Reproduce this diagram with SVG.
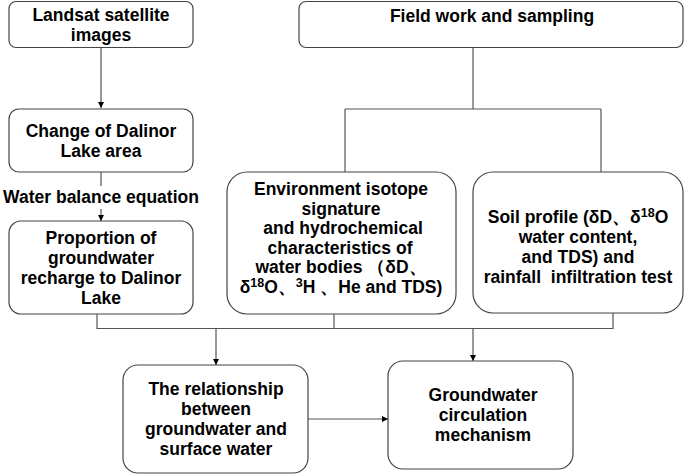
<svg xmlns="http://www.w3.org/2000/svg" width="685" height="475" viewBox="0 0 685 475">
<defs>
<style>
.box{fill:#fff;stroke:#444;stroke-width:1.2}
.ln{fill:none;stroke:#555;stroke-width:1.2}
text{font-family:"Liberation Sans",Arial,sans-serif;font-weight:bold;font-size:17.5px;fill:#000;text-anchor:middle}
.sup{font-size:12.5px}
</style>
<marker id="ah" viewBox="0 0 10 10" refX="10" refY="5" markerWidth="6" markerHeight="6" markerUnits="userSpaceOnUse" orient="auto">
<path d="M0,0 L10,5 L0,10 z" fill="#000"/>
</marker>
</defs>
<rect width="685" height="475" fill="#fff"/>
<g id="connectors">
<path class="ln" d="M101,48 V108" marker-end="url(#ah)"/>
<path class="ln" d="M101,172 V186"/>
<path class="ln" d="M101,209 V221" marker-end="url(#ah)"/>
<path class="ln" d="M473,47 V109 M345,109 H601 M345,109 V172 M601,109 V172"/>
<path class="ln" d="M97,314 V328.5 H613 V313 M334,314 V328.5"/>
<path class="ln" d="M216,328.5 V365" marker-end="url(#ah)"/>
<path class="ln" d="M473,328.5 V361" marker-end="url(#ah)"/>
<path class="ln" d="M308,419 H388" marker-end="url(#ah)"/>
<text x="101" y="203">Water balance equation</text>
</g>
<g id="landsat">
<rect class="box" x="9" y="1.5" width="184" height="46" rx="7"/>
<text x="101" y="21">Landsat satellite</text>
<text x="101" y="41">images</text>
</g>
<g id="field">
<rect class="box" x="299" y="1.5" width="384" height="46" rx="7"/>
<text x="492" y="22">Field work and sampling</text>
</g>
<g id="change">
<rect class="box" x="9" y="109" width="184" height="63" rx="10"/>
<text x="101" y="137">Change of Dalinor</text>
<text x="101" y="157">Lake area</text>
</g>
<g id="proportion">
<rect class="box" x="9" y="221" width="184" height="93" rx="12"/>
<text x="101" y="244">Proportion of</text>
<text x="101" y="264">groundwater</text>
<text x="101" y="284">recharge to Dalinor</text>
<text x="101" y="304">Lake</text>
</g>
<g id="isotope">
<rect class="box" x="227" y="172" width="229" height="142" rx="20"/>
<text x="341" y="195">Environment isotope</text>
<text x="341" y="214.6">signature</text>
<text x="343" y="234.2">and hydrochemical</text>
<text x="340" y="253.8">characteristics of</text>
<text x="341" y="273.4">water bodies （δD、</text>
<text x="341" y="293">δ<tspan class="sup" dy="-6">18</tspan><tspan dy="6">O、</tspan><tspan class="sup" dy="-6">3</tspan><tspan dy="6">H 、He and TDS)</tspan></text>
</g>
<g id="soil">
<rect class="box" x="473" y="172" width="210" height="141" rx="20"/>
<text x="578" y="223">Soil profile (δD、δ<tspan class="sup" dy="-6">18</tspan><tspan dy="6">O</tspan></text>
<text x="578" y="243">water content,</text>
<text x="578" y="263">and TDS) and</text>
<text x="578" y="283">rainfall&#160; infiltration test</text>
</g>
<g id="relationship">
<rect class="box" x="123" y="365" width="185" height="108" rx="15"/>
<text x="216" y="395">The relationship</text>
<text x="216" y="415">between</text>
<text x="216" y="435">groundwater and</text>
<text x="216" y="455">surface water</text>
</g>
<g id="mechanism">
<rect class="box" x="388" y="361" width="185" height="108" rx="15"/>
<text x="483" y="401">Groundwater</text>
<text x="483" y="421">circulation</text>
<text x="483" y="441">mechanism</text>
</g>
</svg>
